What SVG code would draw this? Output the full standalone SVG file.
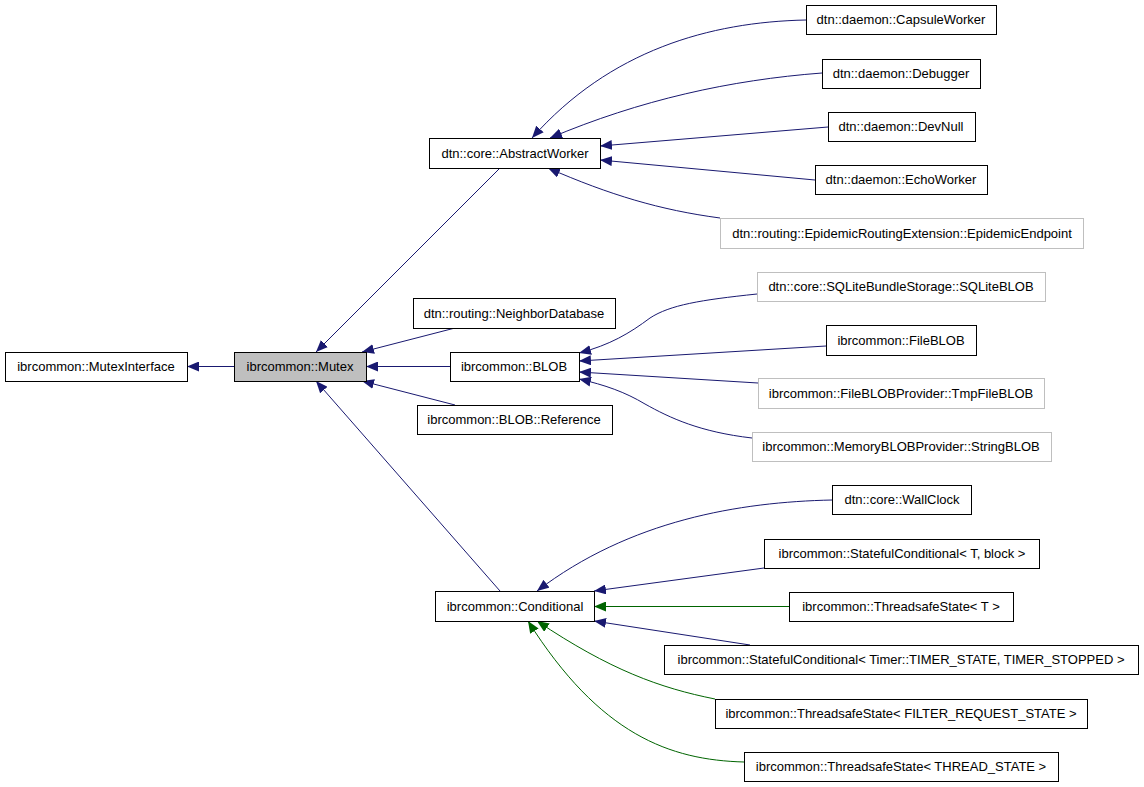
<svg xmlns="http://www.w3.org/2000/svg" width="1144" height="787" viewBox="0 0 1144 787">
<style>
rect{fill:#fff;stroke:#000;stroke-width:1}
.g rect{stroke:#bfbfbf}
.sel rect{fill:#bfbfbf}
text{font-family:"Liberation Sans",Arial,sans-serif;font-size:13px;text-anchor:middle;fill:#000}
.e path{fill:none;stroke:#191970;stroke-width:1}
.e path.t{stroke:#006400}
</style>
<defs>
<marker id="ab" markerUnits="userSpaceOnUse" markerWidth="12" markerHeight="10" refX="12" refY="5" orient="auto"><path d="M0,0 L12,5 L0,10 z" fill="#191970"/></marker>
<marker id="ag" markerUnits="userSpaceOnUse" markerWidth="12" markerHeight="10" refX="12" refY="5" orient="auto"><path d="M0,0 L12,5 L0,10 z" fill="#006400"/></marker>
</defs>
<rect x="0" y="0" width="1144" height="787" style="fill:#fff;stroke:none"/>
<g id="connectors" class="e">
<path d="M234,366.5 L187,366.5" marker-end="url(#ab)"/>
<path d="M500,168 L316,352" marker-end="url(#ab)"/>
<path d="M455,328 L362,352" marker-end="url(#ab)"/>
<path d="M450,366.5 L366,366.5" marker-end="url(#ab)"/>
<path d="M455,405 L362,381" marker-end="url(#ab)"/>
<path d="M500,591 L316,381" marker-end="url(#ab)"/>
<path d="M806,20 C710,22 610,50 532,138" marker-end="url(#ab)"/>
<path d="M822,73 C730,80 640,100 550,138" marker-end="url(#ab)"/>
<path d="M828,127 L600,146" marker-end="url(#ab)"/>
<path d="M815,180 L600,160" marker-end="url(#ab)"/>
<path d="M720,218 C660,210 610,195 548,168" marker-end="url(#ab)"/>
<path d="M757,294 C700,300 670,305 650,318 C630,333 610,345 579,353" marker-end="url(#ab)"/>
<path d="M826,346 L579,361" marker-end="url(#ab)"/>
<path d="M758,383 L579,372" marker-end="url(#ab)"/>
<path d="M752,438 C700,432 670,418 645,404 C625,392 605,385 579,379" marker-end="url(#ab)"/>
<path d="M832,500 C740,502 630,520 537,591" marker-end="url(#ab)"/>
<path d="M764,568 L594,591" marker-end="url(#ab)"/>
<path class="t" d="M789,606.5 L594,606.5" marker-end="url(#ag)"/>
<path d="M750,645 L594,621" marker-end="url(#ab)"/>
<path class="t" d="M715,699 C660,688 610,670 537,621" marker-end="url(#ag)"/>
<path class="t" d="M744,762 C670,760 600,735 528,621" marker-end="url(#ag)"/>
</g>
<g id="n_mutexinterface"><rect x="5.5" y="352.5" width="182" height="29"/><text x="96" y="371">ibrcommon::MutexInterface</text></g>
<g id="n_mutex" class="sel"><rect x="234.5" y="352.5" width="132" height="29"/><text x="300" y="371">ibrcommon::Mutex</text></g>
<g id="n_abstractworker"><rect x="429.5" y="138.5" width="171" height="30"/><text x="515" y="158">dtn::core::AbstractWorker</text></g>
<g id="n_capsuleworker"><rect x="806.5" y="5.5" width="190" height="29"/><text x="901" y="24">dtn::daemon::CapsuleWorker</text></g>
<g id="n_debugger"><rect x="822.5" y="59.5" width="158" height="29"/><text x="901" y="78">dtn::daemon::Debugger</text></g>
<g id="n_devnull"><rect x="828.5" y="112.5" width="147" height="29"/><text x="901" y="131">dtn::daemon::DevNull</text></g>
<g id="n_echoworker"><rect x="815.5" y="165.5" width="172" height="29"/><text x="901" y="184">dtn::daemon::EchoWorker</text></g>
<g id="n_epidemic" class="g"><rect x="720.5" y="218.5" width="363" height="30"/><text x="902" y="238">dtn::routing::EpidemicRoutingExtension::EpidemicEndpoint</text></g>
<g id="n_neighbordb"><rect x="413.5" y="298.5" width="202" height="30"/><text x="514" y="318">dtn::routing::NeighborDatabase</text></g>
<g id="n_blob"><rect x="450.5" y="352.5" width="129" height="29"/><text x="514" y="371">ibrcommon::BLOB</text></g>
<g id="n_blobref"><rect x="417.5" y="405.5" width="195" height="29"/><text x="514" y="424">ibrcommon::BLOB::Reference</text></g>
<g id="n_sqliteblob" class="g"><rect x="757.5" y="272.5" width="288" height="29"/><text x="901" y="291">dtn::core::SQLiteBundleStorage::SQLiteBLOB</text></g>
<g id="n_fileblob"><rect x="826.5" y="325.5" width="150" height="30"/><text x="901" y="345">ibrcommon::FileBLOB</text></g>
<g id="n_tmpfileblob" class="g"><rect x="758.5" y="378.5" width="286" height="30"/><text x="901" y="398">ibrcommon::FileBLOBProvider::TmpFileBLOB</text></g>
<g id="n_stringblob" class="g"><rect x="752.5" y="432.5" width="299" height="29"/><text x="901" y="451">ibrcommon::MemoryBLOBProvider::StringBLOB</text></g>
<g id="n_conditional"><rect x="435.5" y="591.5" width="159" height="30"/><text x="515" y="611">ibrcommon::Conditional</text></g>
<g id="n_wallclock"><rect x="832.5" y="485.5" width="139" height="29"/><text x="902" y="504">dtn::core::WallClock</text></g>
<g id="n_sc_tblock"><rect x="764.5" y="539.5" width="275" height="29"/><text x="902" y="558">ibrcommon::StatefulConditional&lt; T, block &gt;</text></g>
<g id="n_ts_t"><rect x="789.5" y="592.5" width="224" height="29"/><text x="901" y="611">ibrcommon::ThreadsafeState&lt; T &gt;</text></g>
<g id="n_sc_timer"><rect x="664.5" y="645.5" width="474" height="29"/><text x="901" y="664">ibrcommon::StatefulConditional&lt; Timer::TIMER_STATE, TIMER_STOPPED &gt;</text></g>
<g id="n_ts_filter"><rect x="715.5" y="699.5" width="372" height="29"/><text x="901" y="718">ibrcommon::ThreadsafeState&lt; FILTER_REQUEST_STATE &gt;</text></g>
<g id="n_ts_thread"><rect x="744.5" y="752.5" width="314" height="29"/><text x="901" y="771">ibrcommon::ThreadsafeState&lt; THREAD_STATE &gt;</text></g>
</svg>
